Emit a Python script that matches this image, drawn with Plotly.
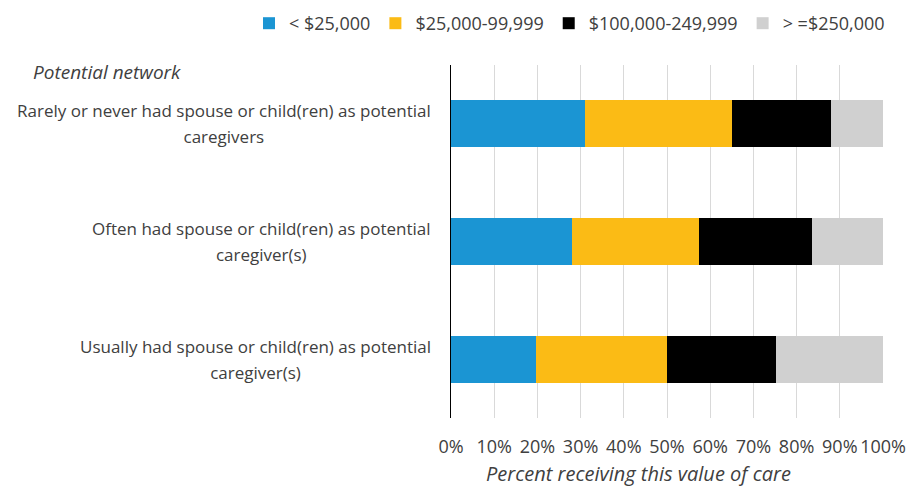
import plotly.graph_objects as go

categories = [
    "Rarely or never had spouse or child(ren) as potential<br>caregivers",
    "Often had spouse or child(ren) as potential<br>caregiver(s)",
    "Usually had spouse or child(ren) as potential<br>caregiver(s)",
]
series_names = ["< $25,000", "$25,000-99,999", "$100,000-249,999", "> =$250,000"]
under_25k = [31.0, 28.1, 19.6]
from_25k_to_100k = [34.1, 29.3, 30.5]
from_100k_to_250k = [22.9, 26.2, 25.2]
over_250k = [12.0, 16.4, 24.7]
series_values = [under_25k, from_25k_to_100k, from_100k_to_250k, over_250k]
colors = ["#1b95d3", "#fbbb15", "#000000", "#d0d0d0"]
tick_vals = [0, 10, 20, 30, 40, 50, 60, 70, 80, 90, 100]
tick_text = [f"{v}%" for v in tick_vals]

font_family = "Open Sans, Noto Sans, sans-serif"
text_color = "#404040"

W, H = 912, 487
M_L, M_R, M_T, M_B = 451, 29, 65, 69
plot_w = W - M_L - M_R
plot_h = H - M_T - M_B


def px_x(px):
    """Horizontal page pixel -> paper coordinate."""
    return (px - M_L) / plot_w


def px_y(px):
    """Vertical page pixel (from top) -> paper coordinate."""
    return (H - M_B - px) / plot_h


fig = go.Figure()
for name, vals, col in zip(series_names, series_values, colors):
    fig.add_trace(go.Bar(
        y=categories, x=vals, name=name, orientation="h",
        marker=dict(color=col, line=dict(width=0)),
    ))


def label_text(cat):
    # the larger outer size sets the line spacing, the inner span the glyph size
    return "<br>".join(f"<span style='font-size:17px'>{line}</span>"
                       for line in cat.split("<br>"))


# category labels: centred multi-line text to the left of the axis line
label_annotations = [
    dict(text=label_text(cat), xref="paper", yref="y", x=0, y=cat,
         xanchor="right", yanchor="middle", align="center", xshift=-18,
         showarrow=False, font=dict(size=20, color=text_color))
    for cat in categories
]

fig.update_layout(
    barmode="stack",
    bargap=0.6,
    width=W, height=H,
    margin=dict(l=M_L, r=M_R, t=M_T, b=M_B, autoexpand=False),
    paper_bgcolor="white", plot_bgcolor="white",
    font=dict(family=font_family, size=16, color=text_color),
    legend=dict(
        orientation="h", xref="paper", yref="paper",
        x=px_x(249), xanchor="left", y=px_y(5), yanchor="top",
        traceorder="normal", font=dict(size=18, color=text_color),
        itemwidth=30, bgcolor="rgba(0,0,0,0)",
    ),
    xaxis=dict(
        range=[0, 100], tickvals=tick_vals, ticktext=tick_text,
        showgrid=True, gridcolor="#d9d9d9", gridwidth=1,
        zeroline=False, showline=False, ticks="", ticklabelstandoff=16,
        tickfont=dict(size=18, color=text_color),
    ),
    yaxis=dict(
        categoryorder="array", categoryarray=categories[::-1],
        showline=True, linecolor="#000000", linewidth=1,
        showgrid=False, ticks="", showticklabels=False,
    ),
    annotations=label_annotations + [
        dict(
            text="Potential network", xref="paper", yref="paper",
            x=px_x(31), y=px_y(72), xanchor="left", yanchor="middle",
            showarrow=False,
            font=dict(size=19, color=text_color, style="italic"),
        ),
        dict(
            text="Percent receiving this value of care", xref="paper", yref="paper",
            x=px_x(638), y=px_y(474), xanchor="center", yanchor="middle",
            showarrow=False,
            font=dict(size=20, color=text_color, style="italic"),
        ),
    ],
)

fig.write_html("out.html")
